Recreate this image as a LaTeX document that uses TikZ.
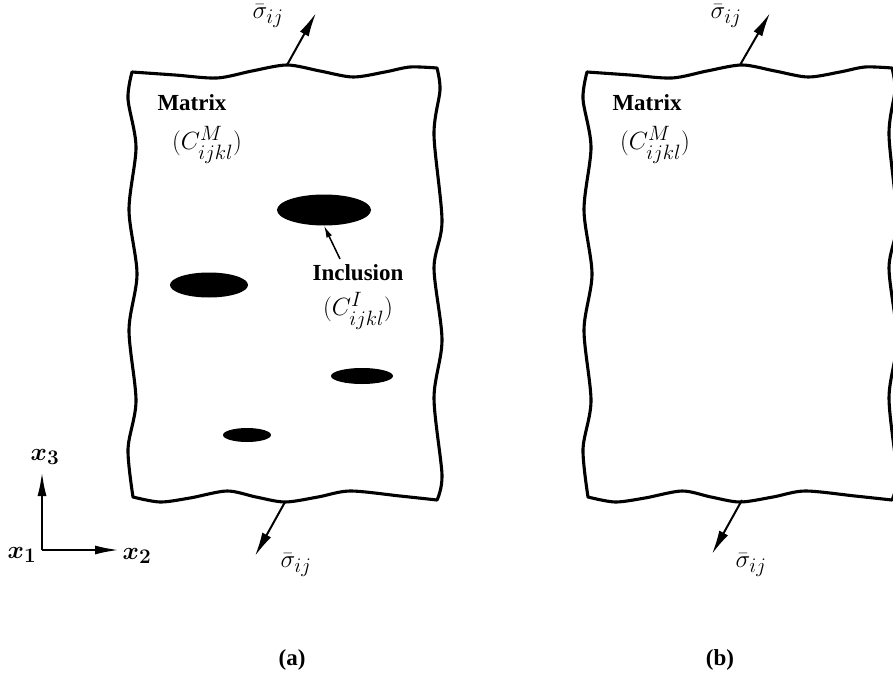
\documentclass[tikz,border=0pt]{standalone}
\usepackage[no-math]{fontspec}
\setmainfont{Liberation Serif}
\usepackage{amsmath,bm}
\usetikzlibrary{arrows.meta,shapes.geometric}
\DeclareMathSizes{28}{28}{21}{16}
\DeclareMathSizes{25}{25}{20}{15}
\tikzset{
  edgeline/.style={line width=3.1pt, line join=round, line cap=round},
  loadarrow/.style={line width=2pt, -{Latex[length=24pt,width=10pt]}},
  pointer/.style={line width=1.5pt, -{Latex[length=12pt,width=6pt]}},
  axisarrow/.style={line width=2.2pt, -{Latex[length=24pt,width=9pt]}},
  incl/.style={ellipse, fill=black, draw=none, inner sep=0pt},
  tlbl/.style={font=\bfseries\fontsize{23}{26}\selectfont, inner sep=0pt},
  mlbl/.style={font=\fontsize{28}{30}\selectfont, inner sep=0pt},
  albl/.style={font=\fontsize{25}{28}\selectfont, inner sep=0pt},
}
\newcommand{\specimenpath}{%
  \draw[edgeline]
    plot[smooth] coordinates {(132,72) (175,75) (217,78) (252,71) (287,65) (320,71) (353,77) (385,72) (410,67) (437,68)}
    -- plot[smooth] coordinates {(437,68) (440,90) (434,135) (442,221) (434,268) (442,340) (434,398) (442,475) (437,500)}
    -- plot[smooth] coordinates {(437,500) (400,496) (350,491) (318,497) (285,502) (256,497) (227,491) (190,498) (160,502) (133,497)}
    -- plot[smooth] coordinates {(133,497) (128,449) (136,401) (129,330) (137,274) (129,210) (136,147) (128,99) (132,72)}
    -- cycle;}
\begin{document}
\begin{tikzpicture}[x=1pt,y=-1pt]
\useasboundingbox (0,0) rectangle (893,679);
\clip (0,0) rectangle (893,679);

% ---------------- panel (a) ----------------
\specimenpath
\coordinate (atb) at (287,65);
\coordinate (att) at (316,13);
\draw[loadarrow] (atb) -- (att);
\node[mlbl] (asigt) at (268,16) {$\bar\sigma_{ij}$};
\coordinate (abb) at (285,502);
\coordinate (abt) at (255,556);
\draw[loadarrow] (abb) -- (abt);
\node[mlbl] (asigb) at (296,565) {$\bar\sigma_{ij}$};

\node[tlbl] (amat) at (192,103) {Matrix};
\node[mlbl] (acm) at (207,145) {$(C^M_{ijkl})$};

\node[incl, minimum width=94pt, minimum height=31pt] (inc1) at (324,210) {};
\node[incl, minimum width=78pt, minimum height=25pt] (inc2) at (209,285) {};
\node[incl, minimum width=62pt, minimum height=16pt] (inc3) at (362,376) {};
\node[incl, minimum width=48pt, minimum height=14pt] (inc4) at (247,435) {};

\node[tlbl] (aincl) at (358,273) {Inclusion};
\node[mlbl] (aci) at (358,311) {$(C^I_{ijkl})$};
\coordinate (ptail) at (340,259);
\draw[pointer] (ptail) -- (inc1.south);

% axes
\coordinate (orig) at (42,550);
\coordinate (ax3) at (42,472);
\coordinate (ax2) at (119,550);
\draw[axisarrow] (orig) -- (ax3);
\draw[axisarrow] (orig) -- (ax2);
\node[albl] (lx3) at (45,457) {$\bm{x_3}$};
\node[albl] (lx1) at (22,555) {$\bm{x_1}$};
\node[albl] (lx2) at (137,556) {$\bm{x_2}$};

\node[tlbl] (capa) at (292,660) {(a)};

% ---------------- panel (b) ----------------
\begin{scope}[xshift=455pt]
\specimenpath
\end{scope}
\coordinate (btb) at (740,65);
\coordinate (btt) at (770,13);
\draw[loadarrow] (btb) -- (btt);
\node[mlbl] (bsigt) at (726,16) {$\bar\sigma_{ij}$};
\coordinate (bbb) at (742,500);
\coordinate (bbt) at (712,554);
\draw[loadarrow] (bbb) -- (bbt);
\node[mlbl] (bsigb) at (751,565) {$\bar\sigma_{ij}$};

\node[tlbl] (bmat) at (647,103) {Matrix};
\node[mlbl] (bcm) at (655,145) {$(C^M_{ijkl})$};

\node[tlbl] (capb) at (720,660) {(b)};
\end{tikzpicture}
\end{document}
